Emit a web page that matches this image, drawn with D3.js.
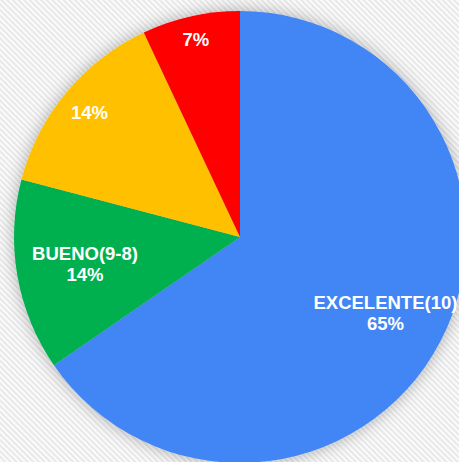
<!DOCTYPE html>
<html>
<head>
<meta charset="utf-8">
<script src="https://cdn.jsdelivr.net/npm/d3@7"></script>
<style>
  html, body { margin: 0; padding: 0; background: #fff; }
  svg { display: block; }
</style>
</head>
<body>
<div id="container"></div>
<script>
// ------ Data ------
const categories = ['EXCELENTE(10)', 'BUENO(9-8)', 'REGULAR', 'MALO'];
const values = [65.4, 13.7, 13.9, 7.0];
const showName = [true, true, false, false];
const colors = ['#4285F4', '#00B050', '#FFC000', '#FF0000'];

// ------ Layout ------
const width = 459,
  height = 462;
const cx = 240, cy = 237, radius = 226;
const labelRadius = [0.727, 0.696, 0.867, 0.897];

const svg = d3.select('#container').append('svg')
  .attr('width', width)
  .attr('height', height);

const defs = svg.append('defs');

const pattern = defs.append('pattern')
  .attr('id', 'stripes')
  .attr('patternUnits', 'userSpaceOnUse')
  .attr('width', 4)
  .attr('height', 4)
  .attr('patternTransform', 'rotate(-45)');
pattern.append('rect').attr('width', 4).attr('height', 4).attr('fill', '#fbfbfb');
pattern.append('rect').attr('width', 2).attr('height', 4).attr('fill', '#e8e8e8');

const shadow = defs.append('filter')
  .attr('id', 'shadow')
  .attr('x', '-20%').attr('y', '-20%')
  .attr('width', '140%').attr('height', '140%');
shadow.append('feDropShadow')
  .attr('dx', 0).attr('dy', 0)
  .attr('stdDeviation', 8)
  .attr('flood-color', '#000')
  .attr('flood-opacity', 0.3);

svg.append('rect')
  .attr('width', width)
  .attr('height', height)
  .attr('fill', 'url(#stripes)');

const pie = d3.pie().sort(null).value(d => d);
const arcs = pie(values);

const arc = d3.arc().innerRadius(0).outerRadius(radius);

const g = svg.append('g').attr('transform', `translate(${cx},${cy})`);

g.append('g').attr('filter', 'url(#shadow)')
  .selectAll('path').data(arcs)
  .enter().append('path')
    .attr('d', arc)
    .attr('fill', (d, i) => colors[i]);

const total = d3.sum(values);

const labels = g.append('g')
  .selectAll('text').data(arcs)
  .enter().append('text')
    .attr('transform', (d, i) => {
      const a = (d.startAngle + d.endAngle) / 2;
      const r = radius * labelRadius[i];
      return `translate(${r * Math.sin(a)},${-r * Math.cos(a)})`;
    })
    .attr('text-anchor', 'middle')
    .attr('fill', '#fff')
    .style('font-family', '"Liberation Sans", Arial, sans-serif')
    .style('font-weight', 'bold')
    .style('font-size', '18.5px');

labels.each(function(d, i) {
  const t = d3.select(this);
  const pct = Math.round(d.value / total * 100) + '%';
  if (showName[i]) {
    t.append('tspan').attr('x', 0).attr('y', -4).text(categories[i]);
    t.append('tspan').attr('x', 0).attr('y', 17).text(pct);
  } else {
    t.append('tspan').attr('x', 0).attr('y', 7).text(pct);
  }
});
</script>
</body>
</html>
